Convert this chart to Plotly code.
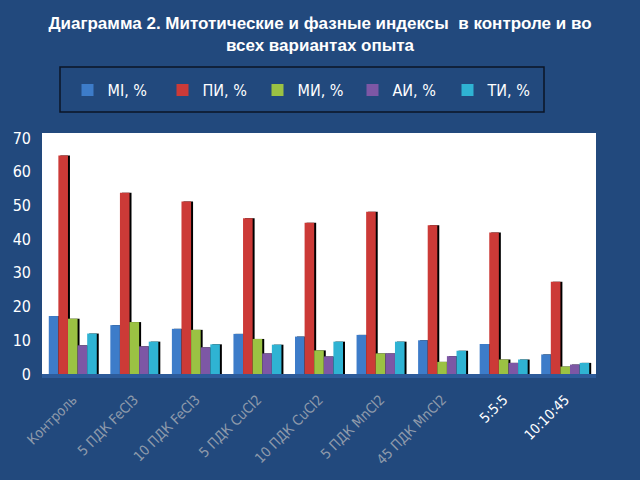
import plotly.graph_objects as go

# categories (x axis)
categories = ["Контроль", "5 ПДК FeCl3", "10 ПДК FeCl3", "5 ПДК CuCl2", "10 ПДК CuCl2",
              "5 ПДК MnCl2", "45 ПДК MnCl2", "5:5:5", "10:10:45"]

# series values
mi_lat = [17.2, 14.5, 13.4, 11.9, 11.1, 11.6, 10.0, 8.9, 5.8]
pi = [64.8, 53.8, 51.2, 46.2, 44.9, 48.1, 44.1, 42.0, 27.4]
mi = [16.4, 15.4, 13.1, 10.4, 7.0, 6.1, 3.6, 4.3, 2.2]
ai = [8.5, 8.2, 7.9, 6.1, 5.2, 6.1, 5.3, 3.3, 2.8]
ti = [12.0, 9.6, 8.8, 8.7, 9.6, 9.6, 6.9, 4.3, 3.3]

series_names = ["MI, %", "ПИ, %", "МИ, %", "АИ, %", "ТИ, %"]
series_values = [mi_lat, pi, mi, ai, ti]
colors = ["#3d7cc9", "#cc3a37", "#9bc243", "#7d57a5", "#2fb3d3"]

BG = "#22497d"
FONT = "DejaVu Sans Condensed, Liberation Sans, Arial"
bar_w = 0.156
shadow_dx = 0.032

# first seven labels come out greyish in the original, last two are white
ticktext = []
for i, c in enumerate(categories):
	if i < 7:
		ticktext.append("<span style='color:#8e9aab'>" + c + "</span>")
	else:
		ticktext.append(c)

fig = go.Figure()
x_idx = list(range(len(categories)))
for i in range(len(series_names)):
	off = -0.39 + i * bar_w
	# black drop shadow on the right of each bar
	fig.add_trace(go.Bar(
		x=x_idx, y=series_values[i],
		offset=off + shadow_dx, width=bar_w,
		marker=dict(color="#000000", line=dict(width=0)),
		showlegend=False, hoverinfo="skip",
	))
	fig.add_trace(go.Bar(
		x=x_idx, y=series_values[i],
		offset=off, width=bar_w,
		name=series_names[i],
		marker=dict(color=colors[i], line=dict(width=0)),
	))

fig.update_layout(
	width=640, height=480,
	paper_bgcolor=BG, plot_bgcolor="white",
	barmode="overlay",
	margin=dict(l=42, r=44, t=133, b=106, autoexpand=False),
	title=dict(
		text="Диаграмма 2. Митотические и фазные индексы  в контроле и во<br>всех вариантах опыта",
		x=0.5, xanchor="center", y=0.94, yanchor="top",
		font=dict(family="Liberation Sans, Arial", size=17, color="white", weight="bold"),
	),
	legend=dict(
		orientation="h", x=305 / 640, xanchor="center", y=(480 - 90) / 480, yanchor="middle",
		yref="container", xref="container",
		font=dict(family=FONT, size=16, color="white"),
		bgcolor="rgba(0,0,0,0)", entrywidth=50, itemwidth=30,
	),
	shapes=[dict(
		type="rect", xref="paper", yref="paper",
		x0=(60 - 42) / 554, x1=(544 - 42) / 554,
		y0=(374 - 112) / 241, y1=(374 - 67) / 241,
		line=dict(color="#0b1526", width=1.5), fillcolor="rgba(0,0,0,0)",
	)],
	showlegend=True,
)

fig.update_xaxes(
	tickvals=x_idx, ticktext=ticktext, tickangle=-45,
	range=[-0.5, len(categories) - 0.5],
	tickfont=dict(family=FONT, size=14, color="white"),
	showline=True, linecolor="#2d5b9a", linewidth=4,
	showgrid=False, ticks="", automargin=False, ticklabelstandoff=8,
)
fig.update_yaxes(
	range=[0, 71.5], dtick=10,
	tickfont=dict(family=FONT, size=16, color="white"),
	showgrid=False, zeroline=False, ticks="", ticklabelstandoff=10, automargin=False,
)

fig.write_html("out.html", config={"displayModeBar": False},
	post_script="document.body.style.margin='0px';")
